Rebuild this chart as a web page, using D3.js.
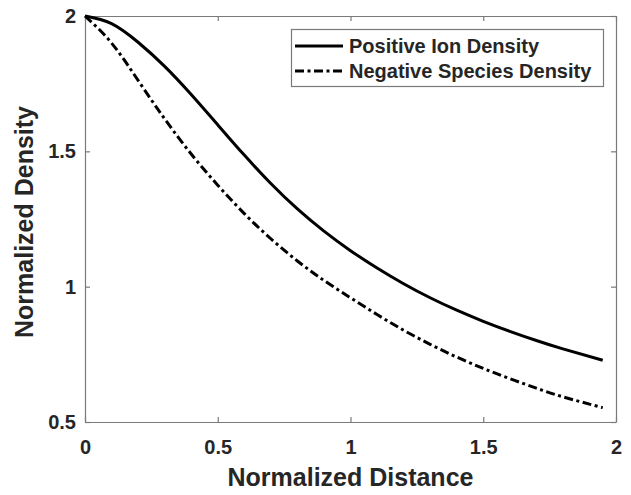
<!DOCTYPE html>
<html lang="en">
<head>
    <meta charset="UTF-8" />
    <title>Normalized Density</title>
    <script src="https://d3js.org/d3.v7.js"></script>
    <style>
        body { margin: 0; background: #fff; }
        text { font-family: "Liberation Sans", Arial, sans-serif; font-weight: bold; fill: #262626; }
    </style>
</head>
<body>
    <script>
        var w = 631;
        var h = 495;

        // values
        var distance = [0, 0.1, 0.2, 0.3, 0.4, 0.5, 0.6, 0.7, 0.8, 0.9, 1.0, 1.1, 1.2, 1.3, 1.4, 1.5, 1.6, 1.7, 1.8, 1.95];
        var positiveIon = [2.0, 1.972, 1.903, 1.814, 1.71, 1.598, 1.486, 1.381, 1.287, 1.205, 1.133, 1.069, 1.011, 0.959, 0.913, 0.872, 0.835, 0.801, 0.77, 0.728];
        var negativeSpecies = [2.0, 1.9, 1.762, 1.62, 1.49, 1.375, 1.27, 1.177, 1.095, 1.023, 0.959, 0.897, 0.839, 0.787, 0.74, 0.698, 0.66, 0.625, 0.593, 0.553];
        var seriesNames = ["Positive Ion Density", "Negative Species Density"];
        var xTicks = [0, 0.5, 1, 1.5, 2];
        var yTicks = [0.5, 1, 1.5, 2];

        var margin = { left: 85, right: 15, top: 16, bottom: 73 };

        var svg = d3.select("body")
            .append("svg")
            .attr("width", w)
            .attr("height", h);

        var xScale = d3.scaleLinear()
            .domain([0, 2])
            .range([margin.left, w - margin.right]);

        var yScale = d3.scaleLinear()
            .domain([0.5, 2])
            .range([h - margin.bottom, margin.top]);

        // axes with inward ticks, box on all sides
        var tickLen = 5;
        svg.append("g")
            .attr("transform", "translate(0," + yScale(0.5) + ")")
            .call(d3.axisBottom(xScale).tickValues(xTicks).tickSizeInner(-tickLen).tickSizeOuter(0).tickPadding(18).tickFormat(d3.format("")))
            .call(styleAxis);
        svg.append("g")
            .attr("transform", "translate(0," + yScale(2) + ")")
            .call(d3.axisTop(xScale).tickValues(xTicks).tickSizeInner(-tickLen).tickSizeOuter(0).tickFormat(""))
            .call(styleAxis);
        svg.append("g")
            .attr("transform", "translate(" + xScale(0) + ",0)")
            .call(d3.axisLeft(yScale).tickValues(yTicks).tickSizeInner(-tickLen).tickSizeOuter(0).tickPadding(9).tickFormat(d3.format("")))
            .call(styleAxis);
        svg.append("g")
            .attr("transform", "translate(" + xScale(2) + ",0)")
            .call(d3.axisRight(yScale).tickValues(yTicks).tickSizeInner(-tickLen).tickSizeOuter(0).tickFormat(""))
            .call(styleAxis);

        function styleAxis(g) {
            g.select(".domain").attr("stroke", "#7a7a7a").attr("stroke-width", 1.2);
            g.selectAll(".tick line").attr("stroke", "#7a7a7a").attr("stroke-width", 1.2);
            g.selectAll(".tick text")
                .attr("font-size", 20)
                .attr("font-family", "Liberation Sans, Arial, sans-serif")
                .attr("font-weight", "bold")
                .attr("fill", "#262626");
        }

        // axis titles
        svg.append("text")
            .attr("x", (xScale(0) + xScale(2)) / 2)
            .attr("y", 486)
            .attr("text-anchor", "middle")
            .attr("font-size", 25)
            .text("Normalized Distance");

        svg.append("text")
            .attr("transform", "translate(33," + ((yScale(0.5) + yScale(2)) / 2 + 3) + ") rotate(-90)")
            .attr("text-anchor", "middle")
            .attr("font-size", 25)
            .text("Normalized Density");

        // lines
        var line = d3.line()
            .x(function (d) { return xScale(d[0]); })
            .y(function (d) { return yScale(d[1]); })
            .curve(d3.curveNatural);

        var dashes = [null, "9,3.5,3,3.5"];
        var series = [positiveIon, negativeSpecies];

        series.forEach(function (vals, k) {
            svg.append("path")
                .datum(distance.map(function (x, i) { return [x, vals[i]]; }))
                .attr("fill", "none")
                .attr("stroke", "#000")
                .attr("stroke-width", 3)
                .attr("stroke-dasharray", dashes[k])
                .attr("d", line);
        });

        // legend
        var legend = svg.append("g");
        legend.append("rect")
            .attr("x", 291.5)
            .attr("y", 29.5)
            .attr("width", 312)
            .attr("height", 57)
            .attr("fill", "#fff")
            .attr("stroke", "#7a7a7a")
            .attr("stroke-width", 1.2);

        seriesNames.forEach(function (name, k) {
            var cy = 46 + k * 25;
            legend.append("line")
                .attr("x1", 295)
                .attr("x2", 343)
                .attr("y1", cy)
                .attr("y2", cy)
                .attr("stroke", "#000")
                .attr("stroke-width", 3)
                .attr("stroke-dasharray", k ? "9,3.5,3,3.5" : null);
            legend.append("text")
                .attr("x", 349)
                .attr("y", cy + 7)
                .attr("font-size", 20)
                .text(name);
        });
    </script>
</body>
</html>
